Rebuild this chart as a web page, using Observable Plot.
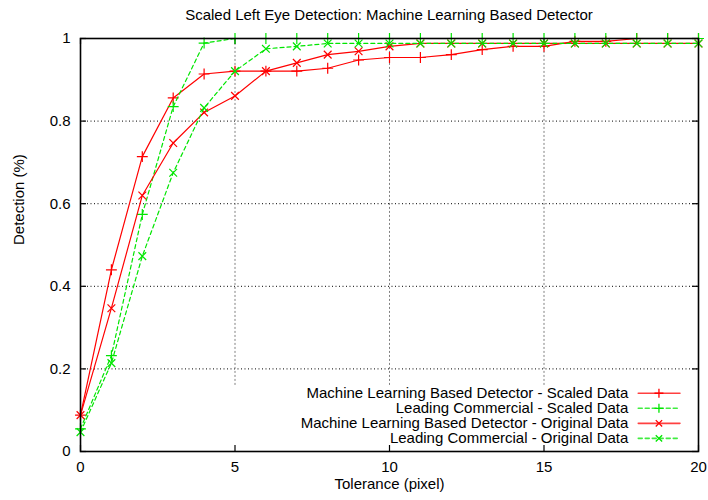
<!DOCTYPE html>
<html>
<head>
<meta charset="utf-8">
<script src="https://cdn.jsdelivr.net/npm/d3@7"></script>
<script src="https://cdn.jsdelivr.net/npm/@observablehq/plot@0.6"></script>
<style>
  html, body { margin: 0; padding: 0; background: #fff; }
  #title { width: 618px; margin-left: 80px; height: 28px; line-height: 30px; text-align: center;
           font-family: "Liberation Sans", Arial, sans-serif; font-size: 15px; color: #000; }
</style>
</head>
<body>
<div id="title">Scaled Left Eye Detection: Machine Learning Based Detector</div>
<div id="chart"></div>
<script>
const tolerance = [0,1,2,3,4,5,6,7,8,9,10,11,12,13,14,15,16,17,18,19,20];
const mlScaled  = [0.088,0.440,0.714,0.856,0.914,0.921,0.921,0.921,0.928,0.948,0.954,0.954,0.961,0.973,0.981,0.981,0.993,0.993,1,1,1];
const lcScaled  = [0.055,0.232,0.574,0.835,0.989,1,1,1,1,1,1,1,1,1,1,1,1,1,1,1,1];
const mlOrig    = [0.088,0.347,0.620,0.747,0.821,0.861,0.921,0.941,0.961,0.969,0.981,0.988,0.988,0.988,0.988,0.988,0.988,0.988,0.988,0.988,0.988];
const lcOrig    = [0.047,0.214,0.473,0.675,0.832,0.921,0.975,0.981,0.988,0.988,0.988,0.988,0.988,0.988,0.988,0.988,0.988,0.988,0.988,0.988,0.988];
const seriesNames = [
  "Machine Learning Based Detector - Scaled Data",
  "Leading Commercial - Scaled Data",
  "Machine Learning Based Detector - Original Data",
  "Leading Commercial - Original Data"
];
const xTicks = [0,5,10,15,20];
const yTicks = [0,0.2,0.4,0.6,0.8,1];
const xGrid = [5,10,15];
const yGrid = [0.2,0.4,0.6,0.8];

const styles = [
  {values: mlScaled, stroke: "#ff0000", dash: null, symbol: "plus"},
  {values: lcScaled, stroke: "#00e600", dash: "4,3", symbol: "plus"},
  {values: mlOrig,   stroke: "#ff0000", dash: null, symbol: "times"},
  {values: lcOrig,   stroke: "#00e600", dash: "4,3", symbol: "times"}
];

const W = 708, H = 472, mT = 10, mB = 49, mL = 80, mR = 10;
const plotW = W - mL - mR, plotH = H - mT - mB;
const font = "Liberation Sans, Arial, sans-serif";
const fs = 15;

const marks = [];
// grid
marks.push(Plot.ruleY(yGrid, {stroke: "#000", strokeWidth: 1, strokeDasharray: "1,2.5"}));
marks.push(Plot.ruleX(xGrid, {y1: 0.16, y2: 1, stroke: "#808080", strokeWidth: 1, strokeDasharray: "2,2"}));
// inward ticks on all four sides
const tl = 6;
marks.push(Plot.ruleX(xTicks, {insetTop: plotH - tl, stroke: "#000", strokeWidth: 1.2}));
marks.push(Plot.ruleX(xTicks, {insetBottom: plotH - tl, stroke: "#000", strokeWidth: 1.2}));
marks.push(Plot.ruleY(yTicks, {insetRight: plotW - tl, stroke: "#000", strokeWidth: 1.2}));
marks.push(Plot.ruleY(yTicks, {insetLeft: plotW - tl, stroke: "#000", strokeWidth: 1.2}));

// series
styles.forEach((s, i) => {
  const data = tolerance.map((t, j) => ({x: t, y: s.values[j]}));
  marks.push(Plot.line(data, {x: "x", y: "y", stroke: s.stroke, strokeWidth: 1.2, strokeDasharray: s.dash}));
  marks.push(Plot.dot(data, {x: "x", y: "y", symbol: s.symbol, r: 3.6, stroke: s.stroke, strokeWidth: 1.2}));
});

// legend (data-space placement)
const legX = 17.73, legL1 = 18.05, legL2 = 19.4, legM = 18.72;
styles.forEach((s, i) => {
  const yy = 0.141 - i * 0.0364;
  marks.push(Plot.text([seriesNames[i]], {x: legX, y: yy, text: d => d, textAnchor: "end", fontSize: fs, fill: "#000"}));
  marks.push(Plot.line([{x: legL1, y: yy}, {x: legL2, y: yy}], {x: "x", y: "y", stroke: s.stroke, strokeWidth: 1.6, strokeOpacity: 0.75, strokeDasharray: s.dash}));
  marks.push(Plot.dot([{x: legM, y: yy}], {x: "x", y: "y", symbol: s.symbol, r: 3, stroke: s.stroke, strokeWidth: 1.3}));
});

// frame and axes
marks.push(Plot.frame({stroke: "#000", strokeWidth: 1.6}));
marks.push(Plot.axisX({ticks: xTicks, tickSize: 0, tickPadding: 10, label: null, tickFormat: d => String(d), fontSize: fs}));
marks.push(Plot.axisY({ticks: yTicks, tickSize: 0, tickPadding: 10, label: null, tickFormat: d => String(d), fontSize: fs}));
marks.push(Plot.text(["Tolerance (pixel)"], {frameAnchor: "bottom", dy: 37, text: d => d, fontSize: fs, fill: "#000"}));
marks.push(Plot.text(["Detection (%)"], {frameAnchor: "left", dx: -61, rotate: -90, text: d => d, fontSize: fs, fill: "#000"}));

const chart = Plot.plot({
  width: W, height: H,
  marginTop: mT, marginBottom: mB, marginLeft: mL, marginRight: mR,
  style: {fontFamily: font, fontSize: fs + "px", color: "#000", background: "#fff"},
  x: {domain: [0, 20]},
  y: {domain: [0, 1]},
  marks
});
document.getElementById("chart").appendChild(chart);
</script>
</body>
</html>
